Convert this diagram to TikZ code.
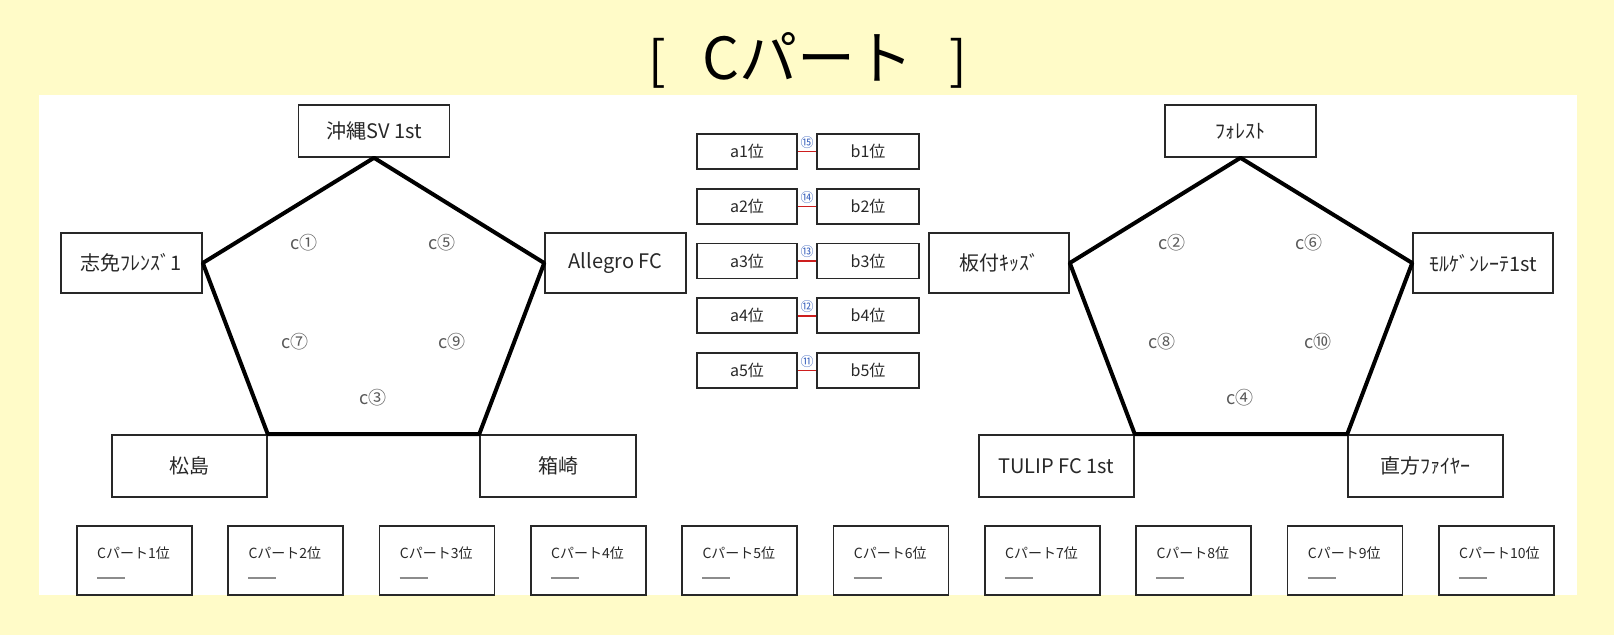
\documentclass[tikz,border=0pt]{standalone}
\usepackage{fontspec}
\setmainfont{Noto Sans CJK JP}
\usetikzlibrary{calc}
\definecolor{paper}{RGB}{255,251,200}
\definecolor{ink}{RGB}{40,40,40}
\definecolor{matchblue}{RGB}{60,100,190}
\definecolor{matchred}{RGB}{205,30,30}

\begin{document}
\begin{tikzpicture}[x=1pt, y=-1pt,
  team/.style={draw=ink, line width=1.6pt, fill=white, inner sep=0pt, text=ink, font=\fontsize{20}{20}\selectfont},
  slot/.style={draw=ink, line width=1.6pt, fill=white, minimum width=100pt, minimum height=35pt, inner sep=0pt, text=ink, font=\fontsize{16}{16}\selectfont},
  rankbox/.style={draw=ink, line width=1.6pt, fill=white, minimum width=115pt, minimum height=69pt, inner sep=0pt, anchor=north west},
  game/.style={text=black!65, inner sep=0pt, font=\fontsize{18}{18}\selectfont},
  order/.style={text=matchblue, inner sep=0pt, font=\fontsize{13}{13}\selectfont},
  side/.style={line width=4pt, line join=round}
]
  \useasboundingbox (0,0) rectangle (1614,635);
  \fill[paper] (0,0) rectangle (1614,635);
  \fill[white] (39,95) rectangle (1577,595);

  \node[font=\fontsize{52}{52}\selectfont] (title) at (808,60)
    {[\hspace{36pt}{\fontsize{58}{58}\selectfont Cパート}\hspace{36pt}]};

  % left pentagon
  \node[team, minimum width=151pt, minimum height=52pt] (okinawa) at (374,131) {沖縄SV 1st};
  \node[team, minimum width=141pt, minimum height=60pt] (shime) at (131.5,263) {志免ﾌﾚﾝｽﾞ1};
  \node[team, minimum width=141pt, minimum height=60pt] (allegro) at (615.5,263) {Allegro FC};
  \node[team, minimum width=155pt, minimum height=62pt] (matsushima) at (189.5,466) {松島};
  \node[team, minimum width=156pt, minimum height=62pt] (hakozaki) at (558,466) {箱崎};

  \draw[side] (okinawa.south) -- (allegro.west) -- (hakozaki.north west)
    -- (matsushima.north east) -- (shime.east) -- cycle;

  \node[game] (c1) at (304,243) {c①};
  \node[game] (c5) at (442,243) {c⑤};
  \node[game] (c7) at (295,342) {c⑦};
  \node[game] (c9) at (452,342) {c⑨};
  \node[game] (c3) at (373,398) {c③};

  % right pentagon
  \node[team, minimum width=151pt, minimum height=52pt] (forest) at (1240.5,131) {ﾌｫﾚｽﾄ};
  \node[team, minimum width=140pt, minimum height=60pt] (itazuke) at (999,263) {板付ｷｯｽﾞ};
  \node[team, minimum width=140pt, minimum height=60pt] (morgen) at (1483,263) {ﾓﾙｹﾞﾝﾚｰﾃ1st};
  \node[team, minimum width=155pt, minimum height=62pt] (tulip) at (1056.5,466) {TULIP FC 1st};
  \node[team, minimum width=155pt, minimum height=62pt] (nogata) at (1425.5,466) {直方ﾌｧｲﾔｰ};

  \draw[side] (forest.south) -- (morgen.west) -- (nogata.north west)
    -- (tulip.north east) -- (itazuke.east) -- cycle;

  \node[game] (c2) at (1172,243) {c②};
  \node[game] (c6) at (1309,243) {c⑥};
  \node[game] (c8) at (1162,342) {c⑧};
  \node[game] (c10) at (1318,342) {c⑩};
  \node[game] (c4) at (1240,398) {c④};

  % placement matches
  \foreach \i/\n in {1/⑮, 2/⑭, 3/⑬, 4/⑫, 5/⑪} {
    \node[slot] (a\i) at (747,151.5+54.75*\i-54.75) {a{\i}位};
    \node[slot, minimum width=102pt] (b\i) at (868,151.5+54.75*\i-54.75) {b{\i}位};
    \draw[matchred, line width=1.5pt] (a\i.east) -- (b\i.west);
    \node[order] (m\i) at ($(a\i.east)!0.5!(b\i.west)+(0,-9)$) {\n};
  }

  % final ranking
  \foreach \i in {1,...,10} {
    \node[rankbox] (r\i) at (76+151.33*\i-151.33,525) {};
    \node[anchor=west, inner sep=0pt, text=ink, font=\fontsize{14}{14}\selectfont]
      (rt\i) at ($(r\i.north west)+(21,28)$) {Cパート{\i}位};
    \draw[black!45, line width=1.2pt] ($(r\i.north west)+(21,53)$) -- ++(28,0);
  }
\end{tikzpicture}
\end{document}
